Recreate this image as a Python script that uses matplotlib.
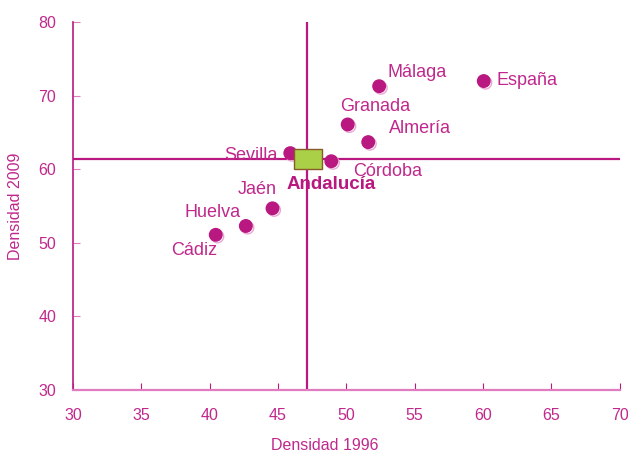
import matplotlib
matplotlib.use("Agg")
import matplotlib.pyplot as plt
import matplotlib.patheffects as pe

# datos
provincias = ['España', 'Málaga', 'Granada', 'Almería', 'Sevilla', 'Córdoba', 'Jaén', 'Huelva', 'Cádiz']
dens_1996 = [60.05, 52.4, 50.1, 51.6, 45.9, 48.9, 44.6, 42.65, 40.45]
dens_2009 = [72.0, 71.3, 66.1, 63.7, 62.2, 61.1, 54.7, 52.3, 51.1]
andalucia_1996 = 47.1
andalucia_2009 = 61.4

# posicion de etiquetas
lab_x = [61.0, 55.2, 52.1, 55.4, 45.0, 53.0, 43.5, 40.25, 38.9]
lab_y = [72.1, 73.2, 68.5, 65.6, 61.9, 59.75, 57.2, 54.2, 49.0]
lab_ha = ['left', 'center', 'center', 'center', 'right', 'center', 'center', 'center', 'center']

MAG = '#B8187F'
TXT = '#C0288C'
PINK = '#E07CC0'
plt.rcParams['font.family'] = ['Liberation Sans', 'DejaVu Sans']

fig = plt.figure(figsize=(6.28, 4.53), dpi=100)
ax = fig.add_axes([0.116, 0.139, 0.871, 0.812])

ax.set_xlim(30, 70)
ax.set_ylim(30, 80)

ax.axvline(andalucia_1996, color=MAG, lw=1.6, zorder=2)
ax.axhline(andalucia_2009, color=MAG, lw=1.6, zorder=2)

ax.plot(dens_1996, dens_2009, 'o', ms=9, color=MAG, mec=MAG, zorder=4,
        path_effects=[pe.SimpleLineShadow(offset=(1.2, -1.2), shadow_color='#E9A7D2', alpha=1), pe.Normal()])

rect = [(-1, -0.7), (1, -0.7), (1, 0.7), (-1, 0.7), (-1, -0.7)]
ax.plot([andalucia_1996 + 0.1], [andalucia_2009], marker=rect, ms=20, color='#A9D046',
        mec='#8B5A2B', mew=1, zorder=5)

for nombre, x, y, ha in zip(provincias, lab_x, lab_y, lab_ha):
    ax.text(x, y, nombre, ha=ha, va='center', fontsize=13, color=TXT)
ax.text(48.9, 58.0, 'Andalucía', ha='center', va='center', fontsize=13.5, color=MAG,
        fontweight='bold')

for s in ['top', 'right']:
    ax.spines[s].set_visible(False)
ax.spines['left'].set_color(MAG)
ax.spines['bottom'].set_color(PINK)
ax.spines['left'].set_linewidth(1.2)
ax.spines['bottom'].set_linewidth(1.6)

ax.set_xticks(range(30, 71, 5))
ax.set_yticks(range(30, 81, 10))
ax.tick_params(axis='x', direction='in', length=5, color=MAG, labelcolor=TXT, labelsize=11.5, pad=13)
ax.tick_params(axis='y', direction='in', length=5, color=PINK, labelcolor=TXT, labelsize=11.5, pad=12)

ax.set_xlabel('Densidad 1996', color=TXT, fontsize=11.5)
ax.set_ylabel('Densidad 2009', color=TXT, fontsize=11.5)
ax.xaxis.set_label_coords(0.46, -0.13)
ax.yaxis.set_label_coords(-0.092, 0.5)

plt.savefig('out.png', dpi=100)
